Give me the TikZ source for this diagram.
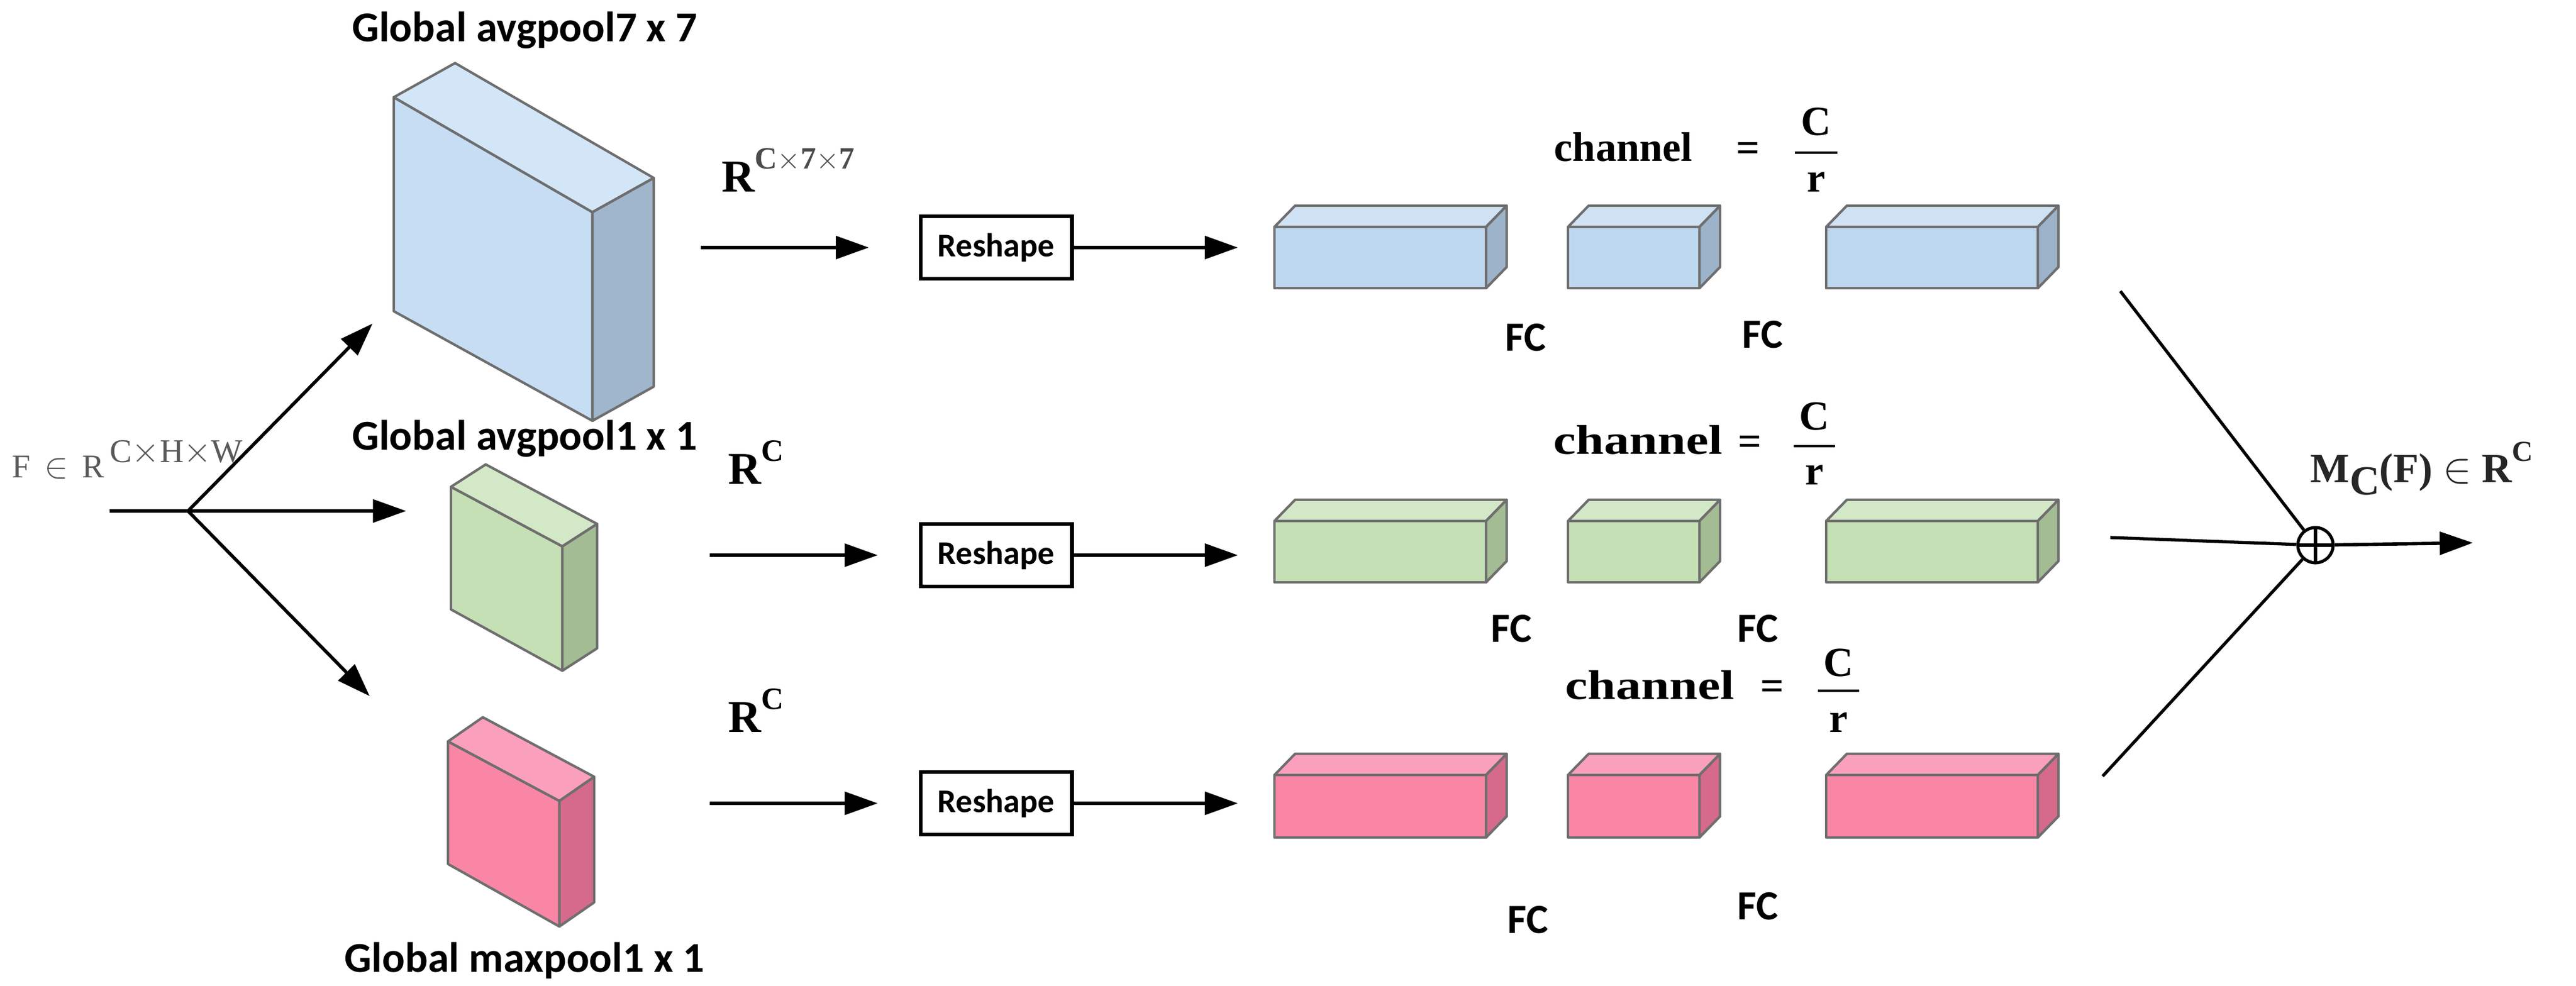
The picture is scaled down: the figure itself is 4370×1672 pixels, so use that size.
\documentclass[tikz,border=0pt]{standalone}
\usepackage{fontspec}
\setmainfont{Liberation Serif}
\newfontfamily\carl{Carlito}
\usetikzlibrary{calc,arrows.meta}
\definecolor{bluF}{HTML}{BDD7EE}\definecolor{bluT}{HTML}{CFE2F3}\definecolor{bluS}{HTML}{9DB3C9}
\definecolor{bigF}{HTML}{C6DDF4}\definecolor{bigT}{HTML}{D3E6F8}\definecolor{bigS}{HTML}{A0B6CC}
\definecolor{grnF}{HTML}{C5E0B4}\definecolor{grnT}{HTML}{D3E8C6}\definecolor{grnS}{HTML}{A3BC94}
\definecolor{pnkF}{HTML}{FA86A6}\definecolor{pnkT}{HTML}{FBA0BC}\definecolor{pnkS}{HTML}{D66A8A}
\definecolor{edge}{HTML}{6E6E6E}
% prism: TL, TR, BR, BL, depth, front, top, side
\newcommand\prism[8]{%
  \filldraw[edge,line width=1.2pt,fill=#6,line join=round] #1 -- #2 -- #3 -- #4 -- cycle;
  \filldraw[edge,line width=1.2pt,fill=#7,line join=round] #1 -- ($#1+#5$) -- ($#2+#5$) -- #2 -- cycle;
  \filldraw[edge,line width=1.2pt,fill=#8,line join=round] #2 -- ($#2+#5$) -- ($#3+#5$) -- #3 -- cycle;}
% block: x, ytop, width, height, colours
\newcommand\blk[7]{\prism{(#1,#2)}{(#1+#3,#2)}{(#1+#3,#2+#4)}{(#1,#2+#4)}{(35,-36)}{#5}{#6}{#7}}
\begin{document}
\begin{tikzpicture}[x=0.01cm,y=-0.01cm,
  ttl/.style={font=\carl\bfseries\fontsize{20.5}{24}\selectfont},
  fc/.style={font=\carl\bfseries\fontsize{20}{24}\selectfont},
  rs/.style={draw,line width=1.8pt,font=\carl\bfseries\fontsize{16}{18}\selectfont,minimum width=73pt,minimum height=30pt,inner sep=0},
  arr/.style={line width=1.6pt,-{Triangle[length=16pt,width=11pt]}},
  ln/.style={line width=1.5pt},
  ser/.style={font=\bfseries\fontsize{20}{22}\selectfont,inner sep=0},
  chn/.style={font=\bfseries\fontsize{20}{22}\selectfont,inner sep=0,anchor=base west,xscale=1.22},
  rl/.style={font=\bfseries\fontsize{22}{24}\selectfont,anchor=base west,inner sep=0}]
\useasboundingbox (0,0) rectangle (4370,1672);
% cubes
\prism{(668,165)}{(1005,360)}{(1005,714)}{(668,528)}{(104,-58)}{bigF}{bigT}{bigS}
\prism{(765,826)}{(954,927)}{(954,1138)}{(765,1034)}{(59,-38)}{grnF}{grnT}{grnS}
\prism{(760,1258)}{(949,1359)}{(949,1572)}{(760,1466)}{(59,-41)}{pnkF}{pnkT}{pnkS}
\node[ttl] (t1) at (890,51) {Global avgpool7 x 7};
\node[ttl] (t2) at (890,744) {Global avgpool1 x 1};
\node[ttl] (t3) at (890,1630) {Global maxpool1 x 1};
% input
\node[anchor=base west,inner sep=0,text=black!65,font=\fontsize{16}{18}\selectfont] (F) at (20,810) {F \,$\in$\, R\,\raisebox{0.45em}{C$\times$H$\times$W}};
\coordinate (in) at (186,867);
\coordinate (br) at (319,867);
\coordinate (e1) at (632,549);
\coordinate (e2) at (689,867);
\coordinate (e3) at (627,1181);
\draw[ln] (in) -- (br);
\draw[arr] (br) -- (e1);
\draw[arr] (br) -- (e2);
\draw[arr] (br) -- (e3);
% reshape
\node[rs] (r1) at (1690,420) {Reshape};
\node[rs] (r2) at (1690,942) {Reshape};
\node[rs] (r3) at (1690,1363) {Reshape};
\coordinate (a1) at (1189,420); \coordinate (b1) at (1474,420);
\coordinate (a2) at (1204,942); \coordinate (b2) at (1489,942);
\coordinate (a3) at (1204,1363); \coordinate (b3) at (1489,1363);
\draw[arr] (a1) -- (b1); \draw[arr] (a2) -- (b2); \draw[arr] (a3) -- (b3);
\node[rl] (R1) at (1224,325) {R\raisebox{0.5em}{\fontsize{15}{16}\selectfont\textcolor{black!70}{C$\times$7$\times$7}}};
\node[rl] (R2) at (1235,821) {R\raisebox{0.5em}{\fontsize{15}{16}\selectfont C}};
\node[rl] (R3) at (1235,1242) {R\raisebox{0.5em}{\fontsize{15}{16}\selectfont C}};
\coordinate (c1) at (2100,420); \coordinate (c2) at (2100,942); \coordinate (c3) at (2100,1363);
\draw[arr] (r1) -- (c1); \draw[arr] (r2) -- (c2); \draw[arr] (r3) -- (c3);
% blocks
\blk{2162}{385}{359}{104}{bluF}{bluT}{bluS}
\blk{2660}{385}{223}{104}{bluF}{bluT}{bluS}
\blk{3098}{385}{359}{104}{bluF}{bluT}{bluS}
\blk{2162}{884}{359}{104}{grnF}{grnT}{grnS}
\blk{2660}{884}{223}{104}{grnF}{grnT}{grnS}
\blk{3098}{884}{359}{104}{grnF}{grnT}{grnS}
\blk{2162}{1315}{359}{106}{pnkF}{pnkT}{pnkS}
\blk{2660}{1315}{223}{106}{pnkF}{pnkT}{pnkS}
\blk{3098}{1315}{359}{106}{pnkF}{pnkT}{pnkS}
% FC
\node[fc] (f11) at (2588,573) {FC}; \node[fc] (f12) at (2990,568) {FC};
\node[fc] (f21) at (2564,1067) {FC}; \node[fc] (f22) at (2982,1067) {FC};
\node[fc] (f31) at (2592,1561) {FC}; \node[fc] (f32) at (2982,1538) {FC};
% channel = C/r
\node[chn,xscale=0.82] (ch1) at (2636,273) {channel};
\node[ser] (eq1) at (2965,258) {=};
\node[ser] (C1) at (3081,207) {C};
\node[ser] (rr1) at (3081,309) {r};
\draw[line width=1.2pt] (3045,259) -- (3117,259);
\node[chn] (ch2) at (2635,770) {channel};
\node[ser] (eq2) at (2968,756) {=};
\node[ser] (C2) at (3078,707) {C};
\node[ser] (rr2) at (3078,806) {r};
\draw[line width=1.2pt] (3043,757) -- (3113,757);
\node[chn] (ch3) at (2655,1186) {channel};
\node[ser] (eq3) at (3006,1171) {=};
\node[ser] (C3) at (3119,1125) {C};
\node[ser] (rr3) at (3119,1226) {r};
\draw[line width=1.2pt] (3084,1172) -- (3154,1172);
% sum
\node[circle,draw,line width=1.5pt,minimum size=17pt,inner sep=0,
  path picture={\draw[line width=1.5pt] (path picture bounding box.north) -- (path picture bounding box.south)
  (path picture bounding box.west) -- (path picture bounding box.east);}] (sum) at (3928,925) {};
\coordinate (s1) at (3597,494); \coordinate (s2) at (3580,912); \coordinate (s3) at (3567,1317);
\draw[ln] (s1) -- (sum); \draw[ln] (s2) -- (sum); \draw[ln] (s3) -- (sum);
\coordinate (out) at (4195,921);
\draw[arr] (sum) -- (out);
\node[rl,font=\bfseries\fontsize{20}{22}\selectfont,text=black!85] (M) at (3919,818) {M\raisebox{-0.3em}{C}(F) $\in$ R\raisebox{0.5em}{\fontsize{14}{15}\selectfont C}};
\end{tikzpicture}
\end{document}
